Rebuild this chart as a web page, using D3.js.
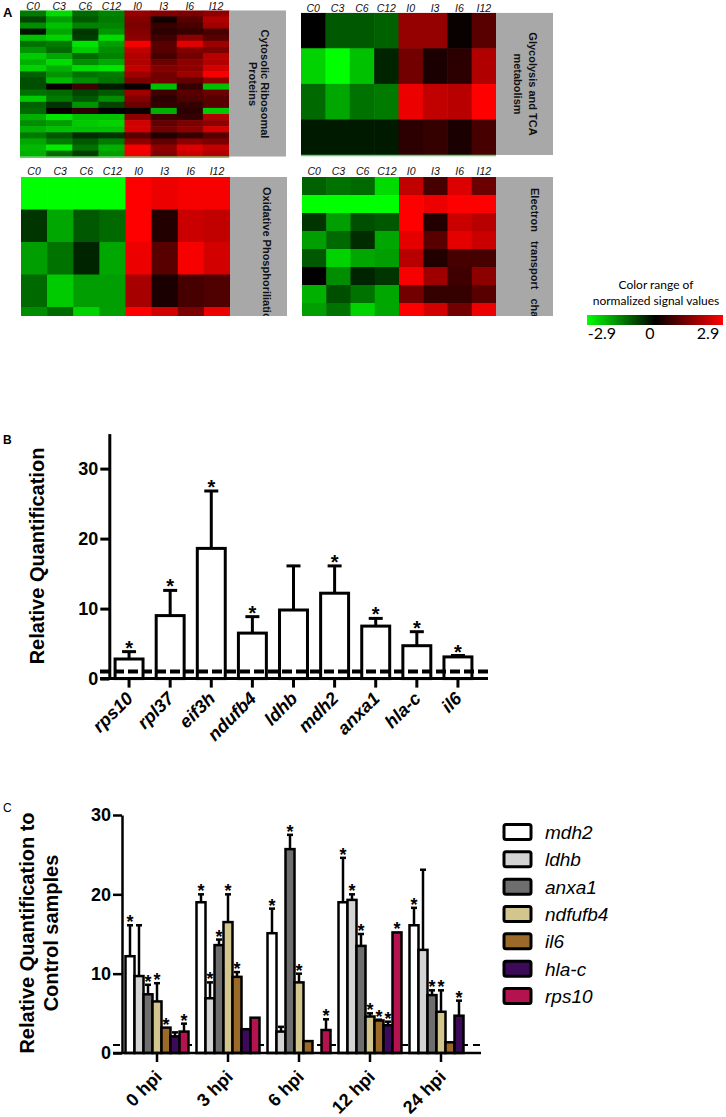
<!DOCTYPE html>
<html><head><meta charset="utf-8">
<script src="https://cdn.jsdelivr.net/npm/d3@7"></script>
<style>body{margin:0;background:#fff}svg{display:block}</style>
</head><body>
<svg id="c" width="726" height="1117"></svg>
<script>
// ---------- Panel A data ----------
const heatCols = ["C0","C3","C6","C12","I0","I3","I6","I12"];
const ribosomal = [
 [-1.4,-2.5,-1.2,-1.5, 1.7, 1.5, 1.4, 1.6],
 [-0.8,-1.8,-1.0,-1.4, 1.5, 0.2, 1.0, 2.0],
 [-1.6,-2.2,-1.5,-1.5, 1.4, 0.6, 0.8, 1.8],
 [-0.2,-1.9,-0.6,-1.7, 1.5, 0.5, 0.6, 0.8],
 [-2.2,-2.4,-0.7,-2.5, 1.6, 0.7, 1.6, 1.0],
 [-1.3,-1.4,-2.6,-1.8, 2.8, 1.0, 2.6, 1.8],
 [-1.7,-1.2,-2.3,-1.6, 2.2, 1.0, 1.5, 1.4],
 [-2.3,-1.9,-1.2,-1.5, 2.0, 0.8, 1.3, 2.1],
 [-2.0,-2.5,-1.6,-1.9, 2.0, 1.2, 1.6, 2.0],
 [-2.4,-2.0,-2.5,-2.6, 2.2, 1.5, 1.6, 2.4],
 [-1.1,-1.7,-1.3,-1.4, 1.8, 1.3, 1.8, 2.8],
 [-0.9,-2.1,-1.6,-1.3, 1.4, 1.3, 1.1, 1.6],
 [-0.9, 0.1, 0.7,-0.3, 0.1,-2.2, 0.6,-2.2],
 [-1.3,-1.2,-0.8,-1.0, 1.8, 0.7, 1.0, 1.2],
 [-2.3,-1.4,-1.0,-1.6, 1.5, 0.5, 0.9, 1.0],
 [-1.1,-0.6,-1.7,-0.8, 1.2, 0.6, 0.6, 1.0],
 [-1.2, 0.1, 0.5, 0.0, 0.1,-2.0, 0.5,-2.3],
 [-2.0,-2.6,-2.2,-2.2, 1.6, 0.7, 0.6, 2.0],
 [-1.6,-1.8,-2.3,-2.4, 2.4, 1.1, 1.4, 1.6],
 [-2.0,-2.2,-2.2,-2.2, 2.4, 1.3, 1.6, 2.4],
 [-1.4,-1.0,-0.5,-0.6, 1.0, 0.4, 0.6, 1.0],
 [-1.9,-1.4,-1.0,-1.4, 1.6, 1.1, 1.6, 1.4],
 [-2.1,-2.7,-1.3,-2.0, 2.8, 1.6, 2.5, 2.2],
 [-2.0,-1.2,-0.7,-1.8, 2.7, 1.5, 2.3, 2.0]
];
const glycolysis = [
 [ 0.0,-1.0,-1.0,-1.1, 1.7, 1.7, 0.1, 1.0],
 [-2.4,-2.9,-2.2,-0.4, 1.3, 0.3, 0.5, 2.0],
 [-1.2,-1.9,-1.3,-1.4, 2.7, 2.2, 2.1, 2.9],
 [-0.3,-0.3,-0.3,-0.3, 0.5, 0.6, 0.3, 0.8]
];
const oxphos = [
 [-2.9,-2.9,-2.9,-2.9, 2.9, 2.7, 2.8, 2.8],
 [-0.6,-1.9,-1.0,-1.2, 2.9, 0.4, 2.3, 2.2],
 [-1.8,-1.3,-0.4,-1.9, 2.7, 1.0, 2.8, 2.4],
 [-1.2,-2.3,-1.8,-1.8, 1.9, 0.3, 0.8, 0.9],
 [-1.6,-1.2,-2.4,-1.8, 2.9, 2.4, 1.4, 2.7]
];
const electron = [
 [-1.1,-1.3,-1.2,-2.5, 2.2, 0.8, 2.5, 1.2],
 [-2.9,-2.9,-2.9,-2.9, 2.9, 2.7, 2.9, 2.9],
 [-0.6,-1.8,-0.9,-1.0, 2.9, 0.4, 2.3, 2.1],
 [-1.8,-1.2,-0.5,-1.9, 2.6, 1.0, 2.6, 2.3],
 [-1.0,-2.4,-1.9,-1.8, 2.1, 0.4, 0.8, 0.8],
 [ 0.0,-1.6,-0.4,-0.6, 2.8, 1.8, 0.7, 1.6],
 [-2.0,-0.9,-1.3,-1.9, 1.3, 0.6, 0.6, 1.0],
 [-1.8,-1.3,-2.4,-1.9, 2.9, 2.4, 1.3, 2.7]
];
const colorTicks = [-2.9, 0, 2.9];

// ---------- Panel B data ----------
const genesB = ["rps10","rpl37","eif3h","ndufb4","ldhb","mdh2","anxa1","hla-c","il6"];
const meanB  = [2.8, 9.0, 18.6, 6.5, 9.8, 12.2, 7.5, 4.7, 3.1];
const upperB = [3.85, 12.6, 26.8, 8.85, 16.1, 16.1, 8.6, 6.7, 3.3];
const starB  = [1, 1, 1, 1, 0, 1, 1, 1, 1];
const ticksB = [0, 10, 20, 30];

// ---------- Panel C data ----------
const timesC = ["0 hpi","3 hpi","6 hpi","12 hpi","24 hpi"];
const genesC = ["mdh2","ldhb","anxa1","ndfufb4","il6","hla-c","rps10"];
const colorsC = ["#ffffff","#d4d4d4","#6e6e6e","#d2c68e","#9b6a28","#3d0a59","#b5134f"];
const mdh2C    = [12.2, 19.0, 15.1, 19.0, 16.1];
const ldhbC    = [9.7, 6.9, 2.7, 19.3, 13.0];
const anxa1C   = [7.4, 13.6, 25.7, 13.5, 7.3];
const ndfufb4C = [6.5, 16.5, 8.9, 4.6, 5.2];
const il6C     = [3.2, 9.6, 1.5, 4.1, 1.35];
const hlacC    = [2.1, 3.0, null, 3.5, 4.7];
const rps10C   = [2.7, 4.45, 2.9, 15.2, null];
const mdh2Err    = [16.1, 20.0, 18.2, 24.6, 18.3];
const ldhbErr    = [16.1, 8.9, 3.3, 20.0, 23.1];
const anxa1Err   = [8.6, 14.3, 27.5, 15.0, 7.9];
const ndfufb4Err = [8.8, 20.0, 10.0, 5.0, 7.9];
const il6Err     = [3.2, 10.2, 1.5, 4.2, 1.35];
const hlacErr    = [2.6, 3.0, null, 3.95, 6.6];
const rps10Err   = [3.7, 4.45, 4.25, 15.2, null];
const mdh2Sig    = [1,1,1,1,1];
const ldhbSig    = [0,1,0,1,0];
const anxa1Sig   = [1,1,1,1,1];
const ndfufb4Sig = [1,1,1,1,1];
const il6Sig     = [1,1,0,1,0];
const hlacSig    = [0,0,0,1,1];
const rps10Sig   = [1,0,1,1,0];
const ticksC = [0, 10, 20, 30];

const meansC = [mdh2C, ldhbC, anxa1C, ndfufb4C, il6C, hlacC, rps10C];
const errsC  = [mdh2Err, ldhbErr, anxa1Err, ndfufb4Err, il6Err, hlacErr, rps10Err];
const sigsC  = [mdh2Sig, ldhbSig, anxa1Sig, ndfufb4Sig, il6Sig, hlacSig, rps10Sig];

// ---------- Drawing ----------
const svg = d3.select("#c");
const defs = svg.append("defs");
const ARIAL = "'Liberation Sans', Arial, sans-serif";
const heatColor = d3.scaleLinear().domain([-2.9, 0, 2.9]).range(["#00ff00", "#000000", "#ff0000"]).clamp(true);

svg.append("text").attr("x", 3).attr("y", 17).text("A")
  .style("font-family", ARIAL).style("font-weight", "bold").style("font-size", "13px");

function heatmap(data, o) {
  const yEnd = o.yEnd != null ? o.yEnd : o.y0 + o.rowH * data.length;
  const clipId = "clip" + o.id;
  defs.append("clipPath").attr("id", clipId).append("rect")
    .attr("x", o.x0 - 2).attr("y", o.y0).attr("width", o.bx1 - o.x0 + 4).attr("height", yEnd - o.y0);
  const x = d3.scaleBand().domain(heatCols).range([o.x0, o.x1]);
  const y = d3.scaleBand().domain(d3.range(data.length)).range([o.y0, o.y0 + o.rowH * data.length]);
  const g = svg.append("g");
  const cg = g.append("g").attr("clip-path", `url(#${clipId})`);
  data.forEach((row, i) => {
    cg.selectAll(null).data(row).enter().append("rect")
      .attr("x", (d, j) => x(heatCols[j])).attr("y", y(i))
      .attr("width", x.bandwidth() + 0.6).attr("height", y.bandwidth() + 0.6)
      .attr("fill", d => heatColor(d));
  });
  cg.append("rect").attr("x", o.x1).attr("y", o.y0).attr("width", o.bx1 - o.x1).attr("height", yEnd - o.y0).attr("fill", "#a8a8a8");
  if (o.greenLine) {
    g.append("line").attr("x1", o.x0).attr("x2", o.x1).attr("y1", yEnd + 0.5).attr("y2", yEnd + 0.5)
      .attr("stroke", "#5fd35f").attr("stroke-width", 1.5);
  }
  g.selectAll(null).data(heatCols).enter().append("text")
    .attr("x", d => x(d) + x.bandwidth() / 2).attr("y", o.labelY)
    .attr("text-anchor", "middle").text(d => d)
    .style("font-family", ARIAL).style("font-style", "italic").style("font-size", "10.5px").attr("fill", "#111");
  o.lines.forEach(L => {
    cg.append("text").attr("transform", `translate(${L.bx},${L.y}) rotate(90)`)
      .attr("text-anchor", L.anchor || "middle").text(L.t)
      .style("font-family", ARIAL).style("font-weight", "bold").style("font-size", "11px")
      .style("word-spacing", (L.ws || 0) + "px").attr("fill", "#111");
  });
}

heatmap(ribosomal, {id: 1, x0: 20, x1: 229, bx1: 286, y0: 10.3, rowH: 6.1, labelY: 10, greenLine: true,
  lines: [{t: "Cytosolic  Ribosomal", bx: 261, y: 84}, {t: "Proteins", bx: 249, y: 84}]});
heatmap(glycolysis, {id: 2, x0: 301, x1: 496, bx1: 553, y0: 12.7, rowH: 35.6, labelY: 11.5, greenLine: true,
  lines: [{t: "Glycolysis and TCA", bx: 529, y: 84}, {t: "metabolism", bx: 514, y: 84}]});
heatmap(oxphos, {id: 3, x0: 21, x1: 230, bx1: 287, y0: 177, rowH: 32.5, yEnd: 316, labelY: 175,
  lines: [{t: "Oxidative Phosphoriliation", bx: 263, y: 187, anchor: "start"}]});
heatmap(electron, {id: 4, x0: 302, x1: 496, bx1: 553, y0: 177, rowH: 18, yEnd: 316, labelY: 175,
  lines: [{t: "Electron transport chain", bx: 531, y: 188, anchor: "start", ws: 6}]});

// colour bar
const grad = defs.append("linearGradient").attr("id", "cbar");
grad.selectAll("stop").data(d3.range(0, 1.0001, 0.1)).enter().append("stop")
  .attr("offset", d => d).attr("stop-color", d => heatColor(-2.9 + 5.8 * d));
const cbx = d3.scaleLinear().domain([-2.9, 2.9]).range([587, 723]);
svg.append("rect").attr("x", cbx(-2.9)).attr("y", 315).attr("width", cbx(2.9) - cbx(-2.9)).attr("height", 10).attr("fill", "url(#cbar)");
svg.append("text").attr("x", 656).attr("y", 289).attr("text-anchor", "middle").text("Color range of")
  .style("font-family", "Lato, sans-serif").style("font-size", "12px");
svg.append("text").attr("x", 656).attr("y", 305).attr("text-anchor", "middle").text("normalized signal values")
  .style("font-family", "Lato, sans-serif").style("font-size", "12px");
const cbl = d3.scaleLinear().domain([-2.9, 2.9]).range([602, 708]);
svg.selectAll(null).data(colorTicks).enter().append("text")
  .attr("x", (d, i) => i === 1 ? 650 : cbl(d)).attr("y", 339).attr("text-anchor", "middle")
  .text(d => d === 0 ? "0" : d3.format(".1f")(d).replace("−", "-"))
  .style("font-family", "Lato, sans-serif").style("font-size", "16px");

// ---------- Panel B ----------
svg.append("text").attr("x", 3).attr("y", 444).text("B")
  .style("font-family", ARIAL).style("font-weight", "bold").style("font-size", "12px");
const yB = d3.scaleLinear().domain([0, 35]).range([678.6, 433.6]);
const xB = d3.scaleBand().domain(genesB).range([108.5, 478.5]).paddingInner(0.32).paddingOuter(0.16);
const gB = svg.append("g");
const bData = genesB.map((g, i) => ({g, v: meanB[i], u: upperB[i], s: starB[i]}));
gB.selectAll(null).data(bData).enter().append("rect")
  .attr("x", d => xB(d.g)).attr("y", d => yB(d.v)).attr("width", xB.bandwidth()).attr("height", d => yB(0) - yB(d.v))
  .attr("fill", "#fff").attr("stroke", "#000").attr("stroke-width", 3);
gB.selectAll(null).data(bData).enter().append("line")
  .attr("x1", d => xB(d.g) + xB.bandwidth() / 2).attr("x2", d => xB(d.g) + xB.bandwidth() / 2)
  .attr("y1", d => yB(d.v)).attr("y2", d => yB(d.u)).attr("stroke", "#000").attr("stroke-width", 3);
gB.selectAll(null).data(bData).enter().append("line")
  .attr("x1", d => xB(d.g) + xB.bandwidth() / 2 - 7).attr("x2", d => xB(d.g) + xB.bandwidth() / 2 + 7)
  .attr("y1", d => yB(d.u)).attr("y2", d => yB(d.u)).attr("stroke", "#000").attr("stroke-width", 3);
gB.selectAll(null).data(bData.filter(d => d.s)).enter().append("text")
  .attr("x", d => xB(d.g) + xB.bandwidth() / 2).attr("y", d => yB(d.u) + 3).attr("text-anchor", "middle").text("*")
  .style("font-family", ARIAL).style("font-weight", "bold").style("font-size", "20px");
// reference line at 1
gB.append("line").attr("x1", 100).attr("x2", 488).attr("y1", yB(1)).attr("y2", yB(1))
  .attr("stroke", "#000").attr("stroke-width", 4).attr("stroke-dasharray", "10,4");
// axes
const axB = gB.append("g").attr("transform", `translate(${109.3},0)`)
  .call(d3.axisLeft(yB).tickValues(ticksB).tickSize(9).tickSizeOuter(0).tickPadding(2));
axB.select(".domain").attr("stroke-width", 3);
axB.selectAll(".tick line").attr("stroke-width", 3);
axB.selectAll("text").style("font-family", ARIAL).style("font-weight", "bold").style("font-size", "18px").attr("fill", "#000");
const axBx = gB.append("g").attr("transform", `translate(0,${yB(0)})`)
  .call(d3.axisBottom(xB).tickSize(9).tickSizeOuter(0));
axBx.select(".domain").remove();
axBx.selectAll(".tick line").attr("stroke-width", 3);
axBx.selectAll("text").attr("transform", "translate(5,21) rotate(-45)").attr("x", 0).attr("y", 0).attr("dy", 0)
  .attr("text-anchor", "end").style("font-family", ARIAL).style("font-weight", "bold").style("font-style", "italic")
  .style("font-size", "18px").attr("fill", "#000");
gB.append("line").attr("x1", 100).attr("x2", 488).attr("y1", yB(0)).attr("y2", yB(0)).attr("stroke", "#000").attr("stroke-width", 3);
gB.append("text").attr("transform", `translate(44,${556}) rotate(-90)`).attr("text-anchor", "middle")
  .text("Relative Quantification").style("font-family", ARIAL).style("font-weight", "bold").style("font-size", "20px");

// ---------- Panel C ----------
svg.append("text").attr("x", 3).attr("y", 812).text("C")
  .style("font-family", ARIAL).style("font-size", "12px");
const yC = d3.scaleLinear().domain([0, 30]).range([1053, 815]);
const x0C = d3.scaleBand().domain(timesC).range([121.5, 476.5]);
const x1C = d3.scaleBand().domain(genesC).range([0, 63]);
const offC = (x0C.bandwidth() - 63) / 2;
const gC = svg.append("g");
gC.append("line").attr("x1", 113).attr("x2", 481).attr("y1", yC(1)).attr("y2", yC(1))
  .attr("stroke", "#000").attr("stroke-width", 2).attr("stroke-dasharray", "7,5");
const cData = [];
genesC.forEach((g, gi) => timesC.forEach((t, ti) => {
  if (meansC[gi][ti] != null) cData.push({g, t, v: meansC[gi][ti], u: errsC[gi][ti], s: sigsC[gi][ti], c: colorsC[gi]});
}));
const cx = d => x0C(d.t) + offC + x1C(d.g) + x1C.bandwidth() / 2;
gC.selectAll(null).data(cData.filter(d => d.u > d.v)).enter().append("line")
  .attr("x1", cx).attr("x2", cx).attr("y1", d => yC(d.v)).attr("y2", d => yC(d.u)).attr("stroke", "#000").attr("stroke-width", 2.5);
gC.selectAll(null).data(cData.filter(d => d.u > d.v)).enter().append("line")
  .attr("x1", d => cx(d) - 3).attr("x2", d => cx(d) + 3).attr("y1", d => yC(d.u)).attr("y2", d => yC(d.u)).attr("stroke", "#000").attr("stroke-width", 2.5);
gC.selectAll(null).data(cData).enter().append("rect")
  .attr("x", d => x0C(d.t) + offC + x1C(d.g)).attr("y", d => yC(d.v))
  .attr("width", x1C.bandwidth()).attr("height", d => yC(0) - yC(d.v))
  .attr("fill", d => d.c).attr("stroke", "#000").attr("stroke-width", 2.5);
gC.selectAll(null).data(cData.filter(d => d.s)).enter().append("text")
  .attr("x", cx).attr("y", d => yC(Math.max(d.u, d.v)) + 3).attr("text-anchor", "middle").text("*")
  .style("font-family", ARIAL).style("font-weight", "bold").style("font-size", "18px");
const axC = gC.append("g").attr("transform", "translate(122,0)")
  .call(d3.axisLeft(yC).tickValues(ticksC).tickSize(9).tickSizeOuter(0).tickPadding(2));
axC.select(".domain").attr("stroke-width", 2.5);
axC.selectAll(".tick line").attr("stroke-width", 2.5);
axC.selectAll("text").style("font-family", ARIAL).style("font-weight", "bold").style("font-size", "18px").attr("fill", "#000");
const axCx = gC.append("g").attr("transform", `translate(0,${yC(0)})`)
  .call(d3.axisBottom(x0C).tickSize(9).tickSizeOuter(0));
axCx.select(".domain").remove();
axCx.selectAll(".tick line").attr("stroke-width", 2.5);
axCx.selectAll("text").attr("transform", "translate(6,25) rotate(-45)").attr("x", 0).attr("y", 0).attr("dy", 0)
  .attr("text-anchor", "end").style("font-family", ARIAL).style("font-weight", "bold")
  .style("font-size", "18px").attr("fill", "#000");
gC.append("line").attr("x1", 113).attr("x2", 481).attr("y1", yC(0)).attr("y2", yC(0)).attr("stroke", "#000").attr("stroke-width", 2.5);
const ylab = gC.append("text").attr("transform", `translate(34,933) rotate(-90)`).attr("text-anchor", "middle")
  .style("font-family", ARIAL).style("font-weight", "bold").style("font-size", "20px");
ylab.append("tspan").attr("x", 0).attr("y", 0).text("Relative Quantification to");
ylab.append("tspan").attr("x", 0).attr("y", 24).text("Control samples");

// legend
const ly = d3.scalePoint().domain(genesC).range([832, 996]);
const lg = svg.append("g");
lg.selectAll(null).data(genesC).enter().append("rect")
  .attr("x", 504).attr("y", d => ly(d) - 7.5).attr("width", 27).attr("height", 15).attr("rx", 2)
  .attr("fill", (d, i) => colorsC[i]).attr("stroke", "#000").attr("stroke-width", 3);
lg.selectAll(null).data(genesC).enter().append("text")
  .attr("x", 545).attr("y", d => ly(d) + 7).text(d => d)
  .style("font-family", ARIAL).style("font-style", "italic").style("font-size", "19px");
</script></body></html>
